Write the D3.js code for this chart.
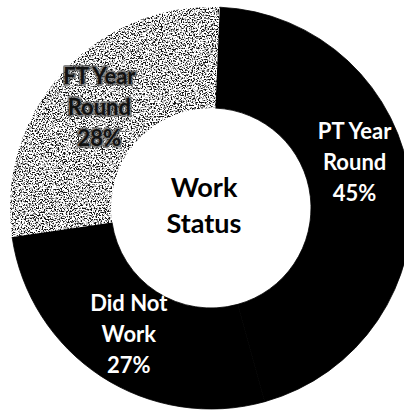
<!DOCTYPE html>
<html>
<head>
<meta charset="utf-8">
<script src="https://cdn.jsdelivr.net/npm/d3@7"></script>
<style>
  html, body { margin: 0; padding: 0; background: #fff; }
  svg { display: block; }
  text { font-family: Lato, "Open Sans", sans-serif; font-weight: 700; }
</style>
</head>
<body>
<svg id="chart" width="404" height="412"></svg>
<script>
// Work status shares (percent)
const categories = ["PT Year Round", "Did Not Work", "FT Year Round"];
const labelLines = [["PT Year", "Round"], ["Did Not", "Work"], ["FT Year", "Round"]];
const shares = [45, 27, 28];
const centerTitle = ["Work", "Status"];

// Presentation
const W = 404, H = 412;
const cx = 211, cy = 208;
const rOuter = 201, rInner = 100;
const rotation = 2.5 * Math.PI / 180;
const sliceStyle = { "PT Year Round": "solid", "Did Not Work": "solid", "FT Year Round": "grain" };
const labelAngleShift = { "PT Year Round": -10.9 * Math.PI / 180 };

const svg = d3.select("#chart");

// Speckled texture for the stippled slice (region in the ring group's local space)
const defs = svg.append("defs");
const grain = defs.append("filter")
  .attr("id", "grain")
  .attr("filterUnits", "userSpaceOnUse")
  .attr("x", -W).attr("y", -H).attr("width", 2 * W).attr("height", 2 * H)
  .attr("color-interpolation-filters", "sRGB");
grain.append("feTurbulence")
  .attr("type", "fractalNoise").attr("baseFrequency", 0.7)
  .attr("numOctaves", 3).attr("seed", 7).attr("result", "noise");
grain.append("feColorMatrix")
  .attr("in", "noise").attr("type", "matrix")
  .attr("values", "3.0 0 0 0 -0.95  3.0 0 0 0 -0.95  3.0 0 0 0 -0.95  0 0 0 0 1")
  .attr("result", "contrast");
const ct = grain.append("feComponentTransfer").attr("in", "contrast").attr("result", "speck");
["feFuncR", "feFuncG", "feFuncB"].forEach(f =>
  ct.append(f).attr("type", "discrete").attr("tableValues", "0.08 0.42 0.78 1 1"));
grain.append("feComposite")
  .attr("in", "speck").attr("in2", "SourceAlpha").attr("operator", "in");

const pie = d3.pie()
  .sort(null)
  .value(d => d)
  .startAngle(rotation)
  .endAngle(rotation + 2 * Math.PI);

const arc = d3.arc().innerRadius(rInner).outerRadius(rOuter);
const arcs = pie(shares).map((a, i) => ({ ...a, category: categories[i], lines: labelLines[i] }));

const g = svg.append("g").attr("transform", `translate(${cx},${cy})`);

g.selectAll("path.slice")
  .data(arcs)
  .join("path")
  .attr("class", "slice")
  .attr("d", arc)
  .attr("fill", "#000")
  .attr("stroke", d => sliceStyle[d.category] === "grain" ? "none" : "#000")
  .attr("stroke-width", 0.8)
  .attr("filter", d => sliceStyle[d.category] === "grain" ? "url(#grain)" : null);

// Slice labels: name lines plus percentage, centred in the ring band
const rMid = (rInner + rOuter) / 2;
const lineGap = 31;
const labels = g.selectAll("g.label")
  .data(arcs)
  .join("g")
  .attr("class", "label")
  .attr("transform", d => {
    const a = (d.startAngle + d.endAngle) / 2 + (labelAngleShift[d.category] || 0);
    return `translate(${rMid * Math.sin(a)},${-rMid * Math.cos(a)})`;
  });

labels.each(function(d) {
  const grp = d3.select(this);
  const texts = [...d.lines, d3.format(".0f")(d.value) + "%"];
  const onGrain = sliceStyle[d.category] === "grain";
  texts.forEach((t, k) => {
    const y = -23.5 + k * lineGap;
    if (onGrain) {
      grp.append("text")
        .attr("x", 0).attr("y", y)
        .attr("text-anchor", "middle")
        .attr("font-size", 22)
        .attr("fill", "none")
        .attr("stroke", "#555")
        .attr("stroke-width", 4)
        .attr("stroke-linejoin", "round")
        .attr("opacity", 0.7)
        .text(t);
    }
    grp.append("text")
      .attr("x", 0).attr("y", y)
      .attr("text-anchor", "middle")
      .attr("font-size", 22)
      .attr("fill", onGrain ? "#111" : "#fff")
      .text(t);
  });
});

// Centre title
g.selectAll("text.title")
  .data(centerTitle)
  .join("text")
  .attr("class", "title")
  .attr("x", -7)
  .attr("y", (d, i) => -11 + i * 36)
  .attr("text-anchor", "middle")
  .attr("font-size", 27)
  .attr("fill", "#000")
  .text(d => d);
</script>
</body>
</html>
